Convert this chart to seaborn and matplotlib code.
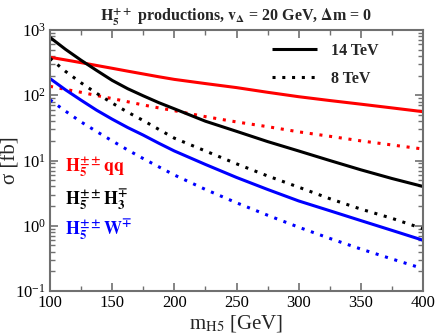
import numpy as np
import pandas as pd
import matplotlib
matplotlib.use("Agg")
import matplotlib.pyplot as plt
import seaborn as sns
from matplotlib.lines import Line2D
from matplotlib.ticker import LogLocator, FixedLocator, LogFormatterSciNotation

# ---- data ----
mass = [100, 112.5, 125, 137.5, 150, 162.5, 175, 187.5, 200,
        225, 250, 275, 300, 325, 350, 375, 400]
qq_14 = [382, 348, 316, 286, 259, 234, 212, 192, 175,
         151, 131, 111, 95, 83, 73, 64, 56]
qq_8 = [137, 123, 111, 99, 89, 79.5, 71, 64, 58,
        47, 39, 33, 27.5, 23.5, 20, 17.3, 15]
h3_14 = [770, 505, 344, 240, 169, 126, 98, 77, 62,
         40, 28, 19.5, 14, 10, 7.2, 5.3, 4.0]
h3_8 = [368, 232, 155, 107, 76, 55, 41, 30, 22,
        14, 8.9, 5.8, 3.9, 2.6, 1.8, 1.3, 0.9]
w_14 = [180, 121, 84, 59, 43, 32, 24.5, 18.4, 14,
        8.7, 5.5, 3.6, 2.4, 1.7, 1.2, 0.85, 0.6]
w_8 = [85, 57, 39, 27.8, 20, 14.5, 10.7, 8.0, 6.0,
       3.6, 2.25, 1.45, 0.95, 0.64, 0.44, 0.31, 0.22]

x_ticks = [100, 150, 200, 250, 300, 350, 400]
x_minor = [125, 175, 225, 275, 325, 375]
legend_labels = ["14 TeV", "8 TeV"]
title = r"$\mathbf{H_5^{++}}$ productions, $\mathbf{v_\Delta}$ = 20 GeV, $\mathbf{\Delta}$m = 0"
proc_labels = [r"$\mathbf{H_5^{\pm\pm}qq}$", r"$\mathbf{H_5^{\pm\pm}H_3^{\mp}}$",
               r"$\mathbf{H_5^{\pm\pm}W^{\mp}}$"]

sns.set_style("ticks")
plt.rcParams["font.family"] = ["Liberation Serif", "DejaVu Serif"]
plt.rcParams["mathtext.fontset"] = "stix"

fig = plt.figure(figsize=(4.36, 3.34), dpi=100)
ax = fig.add_axes([50 / 436, 1 - 291 / 334, 373 / 436, 261 / 334])

lw = 2.2
dot = (0, (1.0, 2.2))
series = [
    (qq_14, "#ff0000", "-"), (qq_8, "#ff0000", dot),
    (h3_14, "#000000", "-"), (h3_8, "#000000", dot),
    (w_14, "#0000ff", "-"), (w_8, "#0000ff", dot),
]
for vals, col, ls in series:
    sns.lineplot(x=mass, y=vals, ax=ax, color=col, lw=lw, linestyle=ls,
                 dash_capstyle="butt", solid_capstyle="butt")

ax.set_yscale("log")
ax.set_xlim(100, 400)
ax.set_ylim(0.1, 1000)

ax.xaxis.set_major_locator(FixedLocator(x_ticks))
ax.xaxis.set_minor_locator(FixedLocator(x_minor))
ax.yaxis.set_major_locator(LogLocator(base=10, numticks=10))
ax.yaxis.set_minor_locator(LogLocator(base=10, subs=np.arange(2, 10), numticks=20))
ax.yaxis.set_major_formatter(LogFormatterSciNotation())

spine_col = "#707070"
for s in ax.spines.values():
    s.set_color(spine_col)
    s.set_linewidth(1.5)
ax.tick_params(which="both", direction="in", top=True, right=True,
               colors=spine_col, labelcolor="black", labelsize=12)
ax.tick_params(which="major", length=6, width=1.2, pad=3)
ax.tick_params(which="minor", length=3.5, width=1.0)

ax.set_xlabel(r"m$_{\mathrm{H5}}$ [GeV]", fontsize=15, labelpad=1)
ax.set_ylabel(r"σ [fb]", fontsize=15)
ax.yaxis.set_label_coords(-0.08, 0.5)
ax.set_title(title, fontsize=11.5, fontweight="bold", pad=6)

handles = [Line2D([], [], color="black", lw=lw, linestyle="-", solid_capstyle="butt"),
           Line2D([], [], color="black", lw=lw, linestyle=dot, dash_capstyle="butt")]
ax.legend(handles, legend_labels, loc="upper left", bbox_to_anchor=(0.595, 0.952),
          frameon=False, borderaxespad=0, borderpad=0, handlelength=2.8,
          handletextpad=0.9, labelspacing=0.75,
          prop={"family": "Liberation Serif", "weight": "bold", "size": 11.5})

cols = ["#ff0000", "#000000", "#0000ff"]
ypos = [0.456, 0.33, 0.218]
for lab, c, yp in zip(proc_labels, cols, ypos):
    ax.text(0.04, yp, lab, transform=ax.transAxes, color=c, fontsize=13,
            va="baseline", ha="left")

fig.savefig("out.png", dpi=100)
